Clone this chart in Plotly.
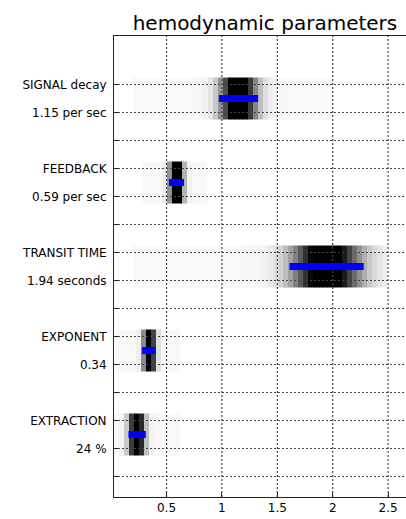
import numpy as np
import plotly.graph_objects as go

# ---- data ----
param_names = ["SIGNAL decay", "FEEDBACK", "TRANSIT TIME", "EXPONENT", "EXTRACTION"]
value_labels = ["1.15 per sec", "0.59 per sec", "1.94 seconds", "0.34", "24 %"]
means = [1.15, 0.59, 1.945, 0.34, 0.235]
ci_half = [0.177, 0.068, 0.335, 0.06, 0.078]      # half-width of blue interval
grid_lo = [0.20, 0.28, 0.20, 0.04, 0.03]           # extent of density image
grid_hi = [1.98, 0.88, 2.50, 0.64, 0.63]
x_ticks = [0.5, 1, 1.5, 2, 2.5]
x_ticktext = ["0.5", "1", "1.5", "2", "2.5"]

# y layout: each parameter uses 3 tick rows (name, value, blank)
y_tickvals = list(range(1, 3 * len(param_names) + 1))
y_ticktext = []
for n, v in zip(param_names, value_labels):
    y_ticktext += [n, v, ""]

x_range = [0.0262, 2.6616]
y_range = [15.732, -0.7321]

FONT = "DejaVu Sans"
fig = go.Figure()

# density images (normal posterior densities)
step = 0.045
for i, (m, h, lo, hi) in enumerate(zip(means, ci_half, grid_lo, grid_hi)):
    sd = h / 1.64
    edges = np.arange(lo, hi + step / 2, step)
    centers = (edges[:-1] + edges[1:]) / 2
    dens = np.exp(-0.5 * ((centers - m) / sd) ** 2)
    yc = 3 * i + 1.5
    fig.add_trace(go.Heatmap(
        x=edges, y=[yc - 0.75, yc + 0.75], z=[dens],
        zmin=0, zmax=0.8,
        colorscale=[[0, "rgb(248,248,248)"], [1, "rgb(0,0,0)"]],
        showscale=False, hoverinfo="skip", zsmooth=False,
    ))

# dotted grid drawn above the images
grid_style = dict(color="#444444", width=1.2, dash="2px,2px")
for xv in x_ticks:
    fig.add_trace(go.Scatter(x=[xv, xv], y=[y_range[0], y_range[1]], mode="lines",
                             line=grid_style, hoverinfo="skip", showlegend=False))
for yv in y_tickvals:
    fig.add_trace(go.Scatter(x=x_range, y=[yv, yv], mode="lines",
                             line=grid_style, hoverinfo="skip", showlegend=False))

# blue intervals
for i, (m, h) in enumerate(zip(means, ci_half)):
    yc = 3 * i + 1.5
    fig.add_trace(go.Scatter(x=[m - h, m + h], y=[yc, yc], mode="lines",
                             line=dict(color="#0000ff", width=7),
                             hoverinfo="skip", showlegend=False))

fig.update_layout(
    width=406, height=519,
    margin=dict(l=114, r=0, t=36, b=22),
    paper_bgcolor="white", plot_bgcolor="white",
    showlegend=False,
    font=dict(family=FONT, size=12, color="black"),
    title=dict(text="hemodynamic parameters", x=0.517, xref="paper", xanchor="center",
               y=1, yref="paper", yanchor="bottom", pad=dict(b=6),
               font=dict(family=FONT, size=20, color="black")),
    xaxis=dict(range=x_range, tickvals=x_ticks, ticktext=x_ticktext,
               ticks="inside", ticklen=4, tickcolor="#222", showgrid=False,
               zeroline=False, showline=True, linecolor="#222", linewidth=1,
               mirror=True, tickfont=dict(family=FONT, size=12)),
    yaxis=dict(range=y_range, tickvals=y_tickvals, ticktext=y_ticktext,
               ticks="inside", ticklen=4, tickcolor="#222", showgrid=False,
               zeroline=False, showline=True, linecolor="#222", linewidth=1,
               ticklabelstandoff=4, tickfont=dict(family=FONT, size=12)),
)

fig.write_html("out.html")
